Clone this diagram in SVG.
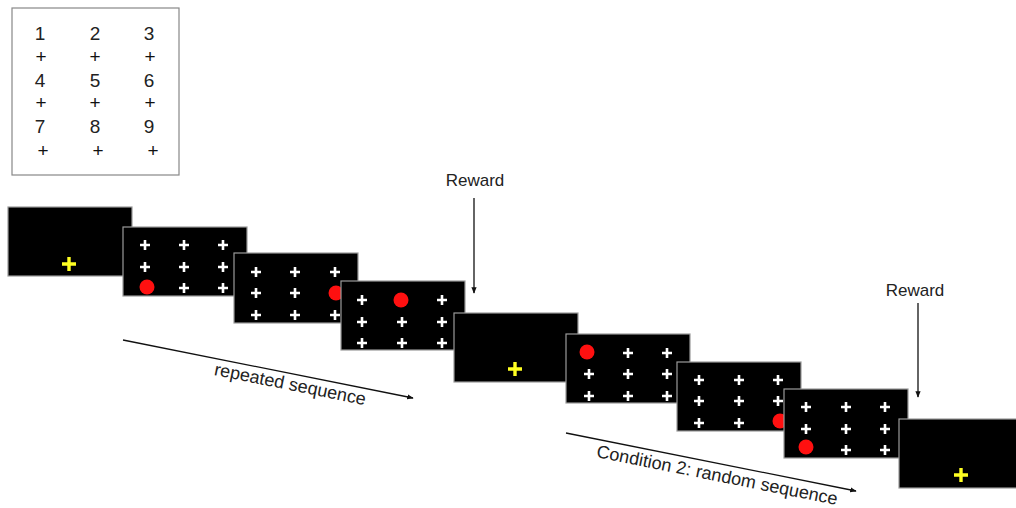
<svg xmlns="http://www.w3.org/2000/svg" xmlns:xlink="http://www.w3.org/1999/xlink" width="1016" height="508" viewBox="0 0 1016 508">
<style>
.scr{fill:#000;stroke:#9a9a9a;stroke-width:1.2}
.num{font-family:"Liberation Sans",Arial,sans-serif;font-size:19px;fill:#222;text-anchor:middle}
.pl{font-family:"Liberation Sans",Arial,sans-serif;font-size:19px;fill:#111;text-anchor:middle}
.lbl{font-family:"Liberation Sans",Arial,sans-serif;font-size:17px;fill:#222;text-anchor:middle}
.lbl2{font-family:"Liberation Sans",Arial,sans-serif;font-size:18px;fill:#222;text-anchor:middle}
.ln{stroke:#111;stroke-width:1.3;fill:none}
</style>
<defs>
<g id="wc"><path d="M-5,0H5M0,-5V5" stroke="#fff" stroke-width="2.6"/></g>
<g id="yc"><path d="M-7,0H7M0,-7V7" stroke="#ffff22" stroke-width="3.4"/></g>
<circle id="rd" r="7.5" fill="#ff1010"/>
<marker id="ah" viewBox="0 0 10 10" refX="9" refY="5" markerWidth="5" markerHeight="5" orient="auto"><path d="M0,1L10,5L0,9z" fill="#111"/></marker>
</defs>
<rect width="1016" height="508" fill="#fff"/>
<g id="legend">
<rect x="12" y="8" width="167" height="167" fill="#fff" stroke="#888" stroke-width="1.2"/>
<text class="num" x="40" y="40">1</text><text class="num" x="95" y="40">2</text><text class="num" x="149" y="40">3</text>
<text class="pl" x="41" y="63">+</text><text class="pl" x="95" y="63">+</text><text class="pl" x="150" y="63">+</text>
<text class="num" x="40" y="87">4</text><text class="num" x="95" y="87">5</text><text class="num" x="149" y="87">6</text>
<text class="pl" x="41" y="109">+</text><text class="pl" x="95" y="109">+</text><text class="pl" x="150" y="109">+</text>
<text class="num" x="40" y="133">7</text><text class="num" x="95" y="133">8</text><text class="num" x="149" y="133">9</text>
<text class="pl" x="43" y="157">+</text><text class="pl" x="98" y="157">+</text><text class="pl" x="153" y="157">+</text>
</g>
<g id="screen1"><rect class="scr" x="8" y="207" width="124" height="69"/><use xlink:href="#yc" x="69" y="264"/></g>
<g id="screen2"><rect class="scr" x="123" y="227" width="124" height="69"/>
<use xlink:href="#wc" x="145" y="245"/><use xlink:href="#wc" x="184" y="245"/><use xlink:href="#wc" x="223" y="245"/>
<use xlink:href="#wc" x="145" y="267"/><use xlink:href="#wc" x="184" y="267"/><use xlink:href="#wc" x="223" y="267"/>
<use xlink:href="#rd" x="147" y="287"/><use xlink:href="#wc" x="184" y="288"/><use xlink:href="#wc" x="223" y="288"/></g>
<g id="screen3"><rect class="scr" x="234" y="253" width="124" height="70"/>
<use xlink:href="#wc" x="256" y="272"/><use xlink:href="#wc" x="295" y="272"/><use xlink:href="#wc" x="335" y="272"/>
<use xlink:href="#wc" x="256" y="293"/><use xlink:href="#wc" x="295" y="293"/><use xlink:href="#rd" x="336" y="293"/>
<use xlink:href="#wc" x="256" y="315"/><use xlink:href="#wc" x="295" y="315"/><use xlink:href="#wc" x="335" y="315"/></g>
<g id="screen4"><rect class="scr" x="341" y="281" width="124" height="69"/>
<use xlink:href="#wc" x="362" y="300"/><use xlink:href="#rd" x="401" y="300"/><use xlink:href="#wc" x="442" y="300"/>
<use xlink:href="#wc" x="362" y="322"/><use xlink:href="#wc" x="402" y="322"/><use xlink:href="#wc" x="442" y="322"/>
<use xlink:href="#wc" x="362" y="343"/><use xlink:href="#wc" x="402" y="343"/><use xlink:href="#wc" x="442" y="343"/></g>
<g id="screen5"><rect class="scr" x="454" y="313" width="124" height="69"/><use xlink:href="#yc" x="515" y="369"/></g>
<g id="screen6"><rect class="scr" x="566" y="334" width="124" height="69"/>
<use xlink:href="#rd" x="587" y="352"/><use xlink:href="#wc" x="628" y="353"/><use xlink:href="#wc" x="667" y="353"/>
<use xlink:href="#wc" x="589" y="374"/><use xlink:href="#wc" x="628" y="374"/><use xlink:href="#wc" x="667" y="374"/>
<use xlink:href="#wc" x="589" y="396"/><use xlink:href="#wc" x="628" y="396"/><use xlink:href="#wc" x="667" y="396"/></g>
<g id="screen7"><rect class="scr" x="677" y="362" width="124" height="69"/>
<use xlink:href="#wc" x="699" y="380"/><use xlink:href="#wc" x="739" y="380"/><use xlink:href="#wc" x="778" y="380"/>
<use xlink:href="#wc" x="699" y="401"/><use xlink:href="#wc" x="739" y="401"/><use xlink:href="#wc" x="778" y="401"/>
<use xlink:href="#wc" x="699" y="423"/><use xlink:href="#wc" x="739" y="423"/><use xlink:href="#rd" x="780" y="421"/></g>
<g id="screen8"><rect class="scr" x="784" y="389" width="124" height="69"/>
<use xlink:href="#wc" x="806" y="407"/><use xlink:href="#wc" x="846" y="407"/><use xlink:href="#wc" x="885" y="407"/>
<use xlink:href="#wc" x="806" y="429"/><use xlink:href="#wc" x="846" y="429"/><use xlink:href="#wc" x="885" y="429"/>
<use xlink:href="#rd" x="806" y="447"/><use xlink:href="#wc" x="846" y="450"/><use xlink:href="#wc" x="885" y="450"/></g>
<g id="screen9"><rect class="scr" x="899" y="419" width="124" height="69"/><use xlink:href="#yc" x="961" y="475"/></g>
<g id="labels">
<text class="lbl" x="475" y="186">Reward</text>
<text class="lbl" x="915" y="296">Reward</text>
<text class="lbl2" transform="translate(289,390) rotate(11.3)">repeated sequence</text>
<text class="lbl2" transform="translate(716,481) rotate(11.3)">Condition 2: random sequence</text>
</g>
<g id="connectors">
<line class="ln" x1="474" y1="198" x2="474" y2="293" marker-end="url(#ah)"/>
<line class="ln" x1="918" y1="303" x2="918" y2="397" marker-end="url(#ah)"/>
<line class="ln" x1="123" y1="340" x2="413" y2="398" marker-end="url(#ah)"/>
<line class="ln" x1="566" y1="433" x2="856" y2="491" marker-end="url(#ah)"/>
</g>
</svg>
